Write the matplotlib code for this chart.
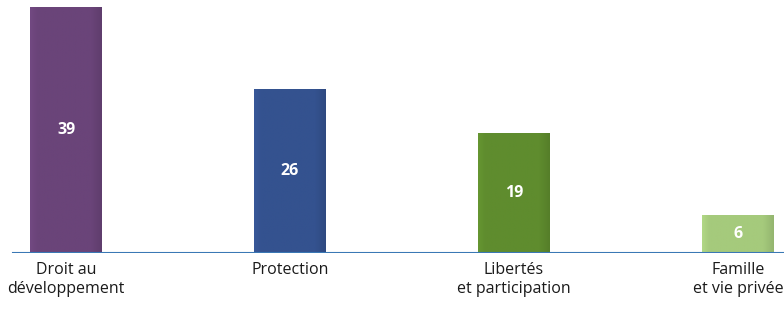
import matplotlib
matplotlib.use("Agg")
import matplotlib.pyplot as plt
import numpy as np
from matplotlib.colors import to_rgb

categories = ["Droit au\ndéveloppement", "Protection", "Libertés\net participation", "Famille\net vie privée"]
values = [39, 26, 19, 6]
colors = ["#6A4479", "#34528F", "#5F8C2E", "#A5CA7C"]

plt.rcParams['font.family'] = ['Open Sans', 'DejaVu Sans']

fig = plt.figure(figsize=(7.84, 3.13), dpi=100)
ax = fig.add_axes([0, 60/313, 1, 253/313])
x = np.arange(len(values))
ax.set_xlim(-66/224, (784-66)/224)
ax.set_ylim(0, 253/6.31)

bars = ax.bar(x, values, width=0.32, color=colors, zorder=2)

# subtle soft bevel inside each bar
for b, c in zip(bars, colors):
    rgb = np.array(to_rgb(c))
    n = 100
    t = np.linspace(0, 1, n)
    shade = np.ones(n)
    shade += 0.07 * np.clip(1 - t / 0.10, 0, 1)
    shade -= 0.10 * np.clip((t - 0.85) / 0.15, 0, 1)
    img = np.clip(rgb[None, None, :] * shade[None, :, None], 0, 1)
    x0, y0, w, h = b.get_x(), b.get_y(), b.get_width(), b.get_height()
    im = ax.imshow(img, extent=[x0, x0 + w, y0, y0 + h], aspect='auto',
                   zorder=3, interpolation='bilinear')
    im.set_clip_path(b)
    ax.text(x0 + w/2, y0 + h/2, str(b.get_height()), ha='center', va='center',
            color='white', fontsize=11.5, fontweight='bold', zorder=4)

ax.axhline(0, xmin=13/784, xmax=1, color="#3A78B5", lw=1.5, zorder=5)

for xi, cat in zip(x, categories):
    ax.text(xi, -1.5, cat, ha='center', va='top', fontsize=11.5, color='#1a1a1a',
            linespacing=1.25)

ax.axis('off')
fig.savefig("out.png", dpi=100)
